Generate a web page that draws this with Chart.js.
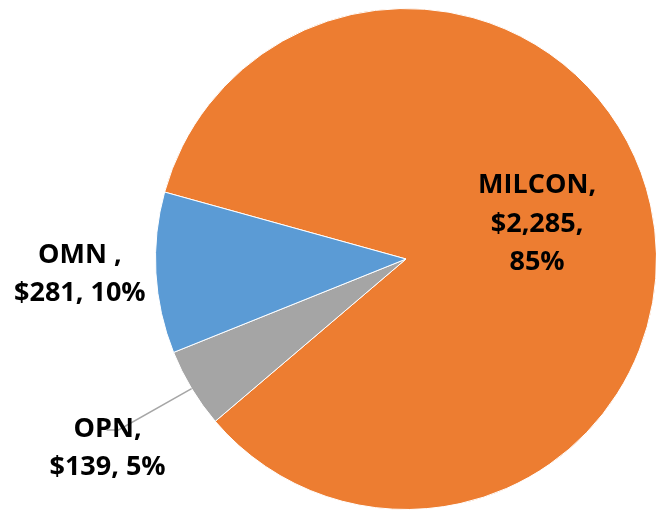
<!DOCTYPE html>
<html>
<head>
<meta charset="utf-8">
<script src="https://cdn.jsdelivr.net/npm/chart.js@4/dist/chart.umd.min.js"></script>
<style>
  html, body { margin: 0; padding: 0; background: #fff; overflow: hidden; }
  #wrap { position: relative; width: 672px; height: 511px; }
</style>
</head>
<body>
<div id="wrap"><canvas id="c" width="672" height="511"></canvas></div>
<script>
const categories = ['MILCON', 'OPN', 'OMN'];
const values = [2285, 139, 281];
const labelLines = [
  ['MILCON,', '$2,285,', '85%'],
  ['OPN,', '$139, 5%'],
  ['OMN ,', '$281, 10%']
];
const colors = ['#ED7D31', '#A5A5A5', '#5B9BD5'];

// label placement: radial fraction of radius + pixel nudge
const labelPlace = [
  { frac: 0.54, dx: -1, dy: -7 },
  { frac: 1.406, dx: 3, dy: 6, leader: true },
  { frac: 1.30, dx: -1, dy: -4 }
];

const labelPlugin = {
  id: 'pieLabels',
  afterDatasetsDraw(chart) {
    const ctx = chart.ctx;
    const meta = chart.getDatasetMeta(0);
    const fontSize = 27;
    const lineH = 38.5;
    ctx.save();
    ctx.font = 'bold ' + fontSize + 'px "Open Sans", Lato, sans-serif';
    ctx.fillStyle = '#000';
    ctx.textAlign = 'center';
    ctx.textBaseline = 'middle';
    meta.data.forEach((arc, i) => {
      const p = arc.getProps(['x', 'y', 'startAngle', 'endAngle', 'outerRadius'], true);
      const mid = (p.startAngle + p.endAngle) / 2;
      const pl = labelPlace[i];
      const cx = p.x + Math.cos(mid) * p.outerRadius * pl.frac + pl.dx;
      const cy = p.y + Math.sin(mid) * p.outerRadius * pl.frac + pl.dy;
      const lines = labelLines[i];
      const top = cy - (lines.length - 1) * lineH / 2;
      if (pl.leader) {
        const ex = p.x + Math.cos(mid) * p.outerRadius;
        const ey = p.y + Math.sin(mid) * p.outerRadius;
        ctx.beginPath();
        ctx.strokeStyle = '#A6A6A6';
        ctx.lineWidth = 1.5;
        ctx.moveTo(ex, ey);
        ctx.lineTo(cx + 11, top + 2);
        ctx.lineTo(cx - 1, top + 2);
        ctx.stroke();
      }
      lines.forEach((t, k) => ctx.fillText(t, cx, top + k * lineH + 1));
    });
    ctx.restore();
  }
};

new Chart(document.getElementById('c'), {
  type: 'pie',
  data: {
    labels: categories,
    datasets: [{
      data: values,
      backgroundColor: colors,
      borderColor: '#ffffff',
      borderWidth: 1
    }]
  },
  options: {
    responsive: false,
    animation: false,
    rotation: 285.5,
    layout: { padding: { left: 155, right: 15, top: 8, bottom: 1 } },
    plugins: {
      legend: { display: false },
      tooltip: { enabled: false }
    }
  },
  plugins: [labelPlugin]
});
</script>
</body>
</html>
